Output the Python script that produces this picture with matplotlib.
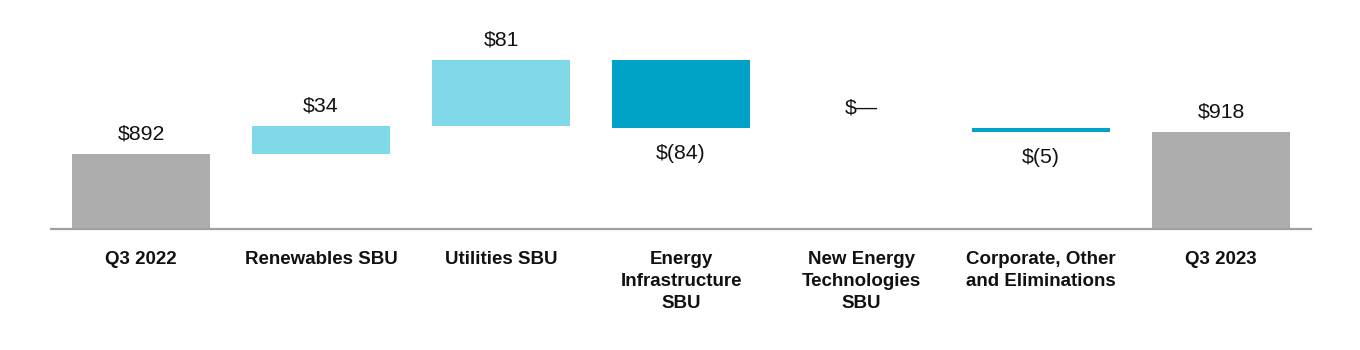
import matplotlib
matplotlib.use("Agg")
import matplotlib.pyplot as plt

plt.rcParams['font.family'] = ['Liberation Sans', 'DejaVu Sans']

# Adjusted EBITDA bridge, Q3 2022 to Q3 2023 ($ millions)
categories = [
    "Q3 2022",
    "Renewables SBU",
    "Utilities SBU",
    "Energy\nInfrastructure\nSBU",
    "New Energy\nTechnologies\nSBU",
    "Corporate, Other\nand Eliminations",
    "Q3 2023",
]
start_value = 892
changes = [34, 81, -84, 0, -5]
end_value = 918
value_labels = ["$892", "$34", "$81", "$(84)", "$\u2014", "$(5)", "$918"]

GREY = "#ADADAD"
LIGHT = "#7FD9E8"
DARK = "#00A3C7"

fig = plt.figure(figsize=(13.6, 3.5), dpi=100)
ax = fig.add_axes([51 / 1360, 121 / 350, 1260 / 1360, 229 / 350])

floor = 800
bar_w = 0.767
x = list(range(len(categories)))

# Totals and floating change bars
bottoms, heights, colors = [floor], [start_value - floor], [GREY]
level = start_value
for i, c in enumerate(changes):
    bottoms.append(level)
    heights.append(c)
    colors.append(LIGHT if i < 2 else DARK)
    level += c
bottoms.append(floor)
heights.append(end_value - floor)
colors.append(GREY)

ax.bar(x, heights, bottom=bottoms, width=bar_w, color=colors, linewidth=0)

# Value labels: above for gains and totals, below for declines
for xi, b, h, lab in zip(x, bottoms, heights, value_labels):
    y = b + h
    off = -18 if h < 0 else 14.4
    ax.annotate(lab, (xi, y), xytext=(0, off), textcoords="offset points",
                ha="center", va="center", fontsize=15.3, color="#111111")

ax.set_xlim(-0.5, len(categories) - 0.5)
ax.set_ylim(floor, 1080)
ax.set_xticks(x)
ax.set_xticklabels(categories, fontsize=13.5, fontweight="bold", linespacing=1.42,
                   color="#111111")
ax.tick_params(axis="x", length=0, pad=15.5)
ax.set_yticks([])
for s in ["top", "right", "left"]:
    ax.spines[s].set_visible(False)
ax.spines["bottom"].set_color("#A0A0A0")
ax.spines["bottom"].set_linewidth(1.6)

fig.savefig("out.png", dpi=100)
